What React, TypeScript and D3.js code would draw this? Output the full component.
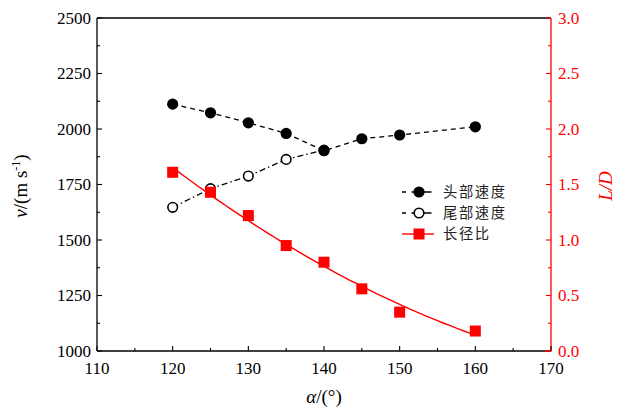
import React from "react";
import * as d3 from "d3";

const angles = [120, 125, 130, 135, 140, 145, 150, 160];
const headSpeed = [2112, 2073, 2028, 1980, 1902, 1956, 1973, 2010];
const tailAngles = [120, 125, 130, 135, 140];
const tailSpeed = [1647, 1731, 1788, 1863, 1905];
const ratio = [1.61, 1.43, 1.22, 0.95, 0.8, 0.56, 0.35, 0.18];
const xTicks = [110, 120, 130, 140, 150, 160, 170];
const yLTicks = [1000, 1250, 1500, 1750, 2000, 2250, 2500];
const yRTicks = [0, 0.5, 1.0, 1.5, 2.0, 2.5, 3.0];
const legendLabels = ["头部速度", "尾部速度", "长径比"];

function quadFit(xs: number[], ys: number[]) {
  // least squares y = a + b x + c x^2 (centered)
  const m = d3.mean(xs) as number;
  const S = [0, 0, 0, 0, 0];
  const T = [0, 0, 0];
  xs.forEach((x0, i) => {
    const x = x0 - m;
    for (let k = 0; k < 5; k++) S[k] += Math.pow(x, k);
    for (let k = 0; k < 3; k++) T[k] += ys[i] * Math.pow(x, k);
  });
  const A = [
    [S[0], S[1], S[2], T[0]],
    [S[1], S[2], S[3], T[1]],
    [S[2], S[3], S[4], T[2]],
  ];
  for (let i = 0; i < 3; i++) {
    for (let j = i + 1; j < 3; j++) {
      const f = A[j][i] / A[i][i];
      for (let k = i; k < 4; k++) A[j][k] -= f * A[i][k];
    }
  }
  const c = [0, 0, 0];
  for (let i = 2; i >= 0; i--) {
    let s = A[i][3];
    for (let k = i + 1; k < 3; k++) s -= A[i][k] * c[k];
    c[i] = s / A[i][i];
  }
  return (x: number) => c[0] + c[1] * (x - m) + c[2] * (x - m) * (x - m);
}

export default function App() {
  const W = 619, H = 408;
  const L = 97, R = 551, T = 18, B = 351;
  const x = d3.scaleLinear().domain([110, 170]).range([L, R]);
  const yL = d3.scaleLinear().domain([1000, 2500]).range([B, T]);
  const yR = d3.scaleLinear().domain([0, 3]).range([B, T]);
  const red = "#ff0000";
  const font = "'Liberation Serif', 'Times New Roman', serif";

  const headLine = d3.line<number>().x((_, i) => x(angles[i])).y((d) => yL(d))(headSpeed) || "";
  const tailLine = d3.line<number>().x((_, i) => x(tailAngles[i])).y((d) => yL(d))(tailSpeed) || "";
  const fit = quadFit(angles, ratio);
  const fitXs = d3.range(120, 160.01, 0.5);
  const fitLine = d3.line<number>().x((d) => x(d)).y((d) => yR(fit(d)))(fitXs) || "";

  const xMinor = d3.range(115, 170, 10);
  const yLMinor = d3.range(1125, 2500, 250);
  const yRMinor = d3.range(0.25, 3, 0.5);

  const legX = 402, legY = [192, 213, 234];

  return (
    <svg width={W} height={H} style={{ position: "absolute", left: 0, top: 0, background: "#fff" }}>
      <rect width={W} height={H} fill="#fff" />
      {/* frame */}
      <line x1={L} x2={R} y1={T} y2={T} stroke="#000" strokeWidth={1.3} />
      <line x1={L} x2={R} y1={B} y2={B} stroke="#000" strokeWidth={1.3} />
      <line x1={L} x2={L} y1={T} y2={B} stroke="#000" strokeWidth={1.3} />
      <line x1={R} x2={R} y1={T} y2={B + 0.65} stroke={red} strokeWidth={1.3} />
      <line x1={R - 6} x2={R} y1={B} y2={B} stroke={red} strokeWidth={1.3} />
      {/* x ticks */}
      {xTicks.map((t) => (
        <g key={"x" + t}>
          <line x1={x(t)} x2={x(t)} y1={B} y2={B - 5} stroke="#000" strokeWidth={1.1} />
          <text x={x(t)} y={374} textAnchor="middle" fontFamily={font} fontSize={17} fill="#000">{t}</text>
        </g>
      ))}
      {xMinor.map((t) => (
        <line key={"xm" + t} x1={x(t)} x2={x(t)} y1={B} y2={B - 3} stroke="#000" strokeWidth={1.1} />
      ))}
      {/* left ticks */}
      {yLTicks.map((t) => (
        <g key={"yl" + t}>
          <line x1={L} x2={L + 5} y1={yL(t)} y2={yL(t)} stroke="#000" strokeWidth={1.1} />
          <text x={91} y={yL(t)} dy="0.34em" textAnchor="end" fontFamily={font} fontSize={17} fill="#000">{t}</text>
        </g>
      ))}
      {yLMinor.map((t) => (
        <line key={"ylm" + t} x1={L} x2={L + 3} y1={yL(t)} y2={yL(t)} stroke="#000" strokeWidth={1.1} />
      ))}
      {/* right ticks */}
      {yRTicks.map((t) => (
        <g key={"yr" + t}>
          <line x1={R} x2={R - 5} y1={yR(t)} y2={yR(t)} stroke={red} strokeWidth={1.1} />
          <text x={558} y={yR(t)} dy="0.34em" textAnchor="start" fontFamily={font} fontSize={17} fill={red}>{t.toFixed(1)}</text>
        </g>
      ))}
      {yRMinor.map((t) => (
        <line key={"yrm" + t} x1={R} x2={R - 3} y1={yR(t)} y2={yR(t)} stroke={red} strokeWidth={1.1} />
      ))}
      {/* axis titles */}
      <text transform="translate(27,186) rotate(-90)" textAnchor="middle" fontFamily={font} fontSize={19} fill="#000">
        <tspan fontStyle="italic">v</tspan>/(m s<tspan dy={-7} fontSize={12}>-1</tspan><tspan dy={7}>)</tspan>
      </text>
      <text x={324} y={403} textAnchor="middle" fontFamily={font} fontSize={19} fill="#000">
        <tspan fontStyle="italic">α</tspan>/(°)
      </text>
      <text transform="translate(612,186) rotate(-90)" textAnchor="middle" fontFamily={font} fontSize={19} fontStyle="italic" fill={red}>L/D</text>
      {/* series lines */}
      <path d={tailLine} fill="none" stroke="#000" strokeWidth={1.3} strokeDasharray="6 3 1.5 3" />
      <path d={headLine} fill="none" stroke="#000" strokeWidth={1.3} strokeDasharray="5 4" />
      {tailSpeed.map((v, i) => (
        <circle key={"t" + i} cx={x(tailAngles[i])} cy={yL(v)} r={4.8} fill="#fff" stroke="#000" strokeWidth={1.6} />
      ))}
      {headSpeed.map((v, i) => (
        <circle key={"h" + i} cx={x(angles[i])} cy={yL(v)} r={5.6} fill="#000" />
      ))}
      <path d={fitLine} fill="none" stroke={red} strokeWidth={1.4} />
      {ratio.map((v, i) => (
        <rect key={"r" + i} x={x(angles[i]) - 5.5} y={yR(v) - 5.5} width={11} height={11} fill={red} />
      ))}
      {/* legend */}
      <g>
        <line x1={legX} x2={434} y1={legY[0]} y2={legY[0]} stroke="#000" strokeWidth={1.3} strokeDasharray="4 5.5 20 5.5" />
        <circle cx={419} cy={legY[0]} r={5.6} fill="#000" />
        <line x1={legX} x2={434} y1={legY[1]} y2={legY[1]} stroke="#000" strokeWidth={1.3} strokeDasharray="4 5.5 20 5.5" />
        <circle cx={419} cy={legY[1]} r={4.8} fill="#fff" stroke="#000" strokeWidth={1.6} />
        <line x1={legX} x2={434} y1={legY[2]} y2={legY[2]} stroke={red} strokeWidth={1.4} />
        <rect x={419 - 5.5} y={legY[2] - 5.5} width={11} height={11} fill={red} />
        {legendLabels.map((s, i) => (
          <text key={s} x={443} y={legY[i]} dy="0.36em" fontFamily="'Noto Sans CJK SC', sans-serif" fontSize={14.3} letterSpacing={1.6} fill="#222">{s}</text>
        ))}
      </g>
    </svg>
  );
}
